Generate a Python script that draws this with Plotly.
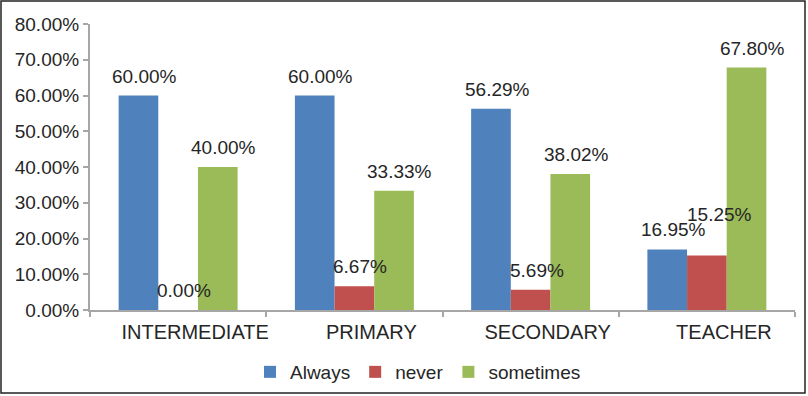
import plotly.graph_objects as go

categories = ["INTERMEDIATE", "PRIMARY", "SECONDARY", "TEACHER"]
always = [60.00, 60.00, 56.29, 16.95]
never = [0.00, 6.67, 5.69, 15.25]
sometimes = [40.00, 33.33, 38.02, 67.80]
series_names = ["Always", "never", "sometimes"]
colors = ["#4F81BD", "#C0504D", "#9BBB59"]
y_ticks = [0, 10, 20, 30, 40, 50, 60, 70, 80]
y_tick_labels = [f"{v:.2f}%" for v in y_ticks]

W, H = 808, 396
L, R, T, B = 90, 13, 24, 86
pw, ph = W - L - R, H - T - B

font = "Liberation Sans, Arial, sans-serif"
fig = go.Figure()
for name, vals, col in zip(series_names, [always, never, sometimes], colors):
    fig.add_trace(go.Bar(name=name, x=categories, y=vals, marker_color=col,
                         marker_line_width=0))

annotations = []
offsets = [-39.5, 0, 39.5]
for si, vals in enumerate([always, never, sometimes]):
    for ci, v in enumerate(vals):
        xs, ys = offsets[si] + 6, 7
        if categories[ci] == "TEACHER" and si == 1:
            xs += 7
            ys += 21
        annotations.append(dict(x=categories[ci], y=v, xref="x", yref="y",
                                text=f"{v:.2f}%", showarrow=False,
                                yanchor="bottom", xshift=xs, yshift=ys,
                                font=dict(family=font, size=19, color="#262626")))

def px2paper_x(p):
    return (p - L) / pw

def px2paper_y(p):
    return (H - B - p) / ph

fig.add_shape(type="rect", xref="paper", yref="paper",
              x0=px2paper_x(1), x1=px2paper_x(805),
              y0=px2paper_y(393), y1=px2paper_y(1),
              line=dict(color="#222222", width=1.5), layer="below")

fig.update_layout(
    width=W, height=H,
    margin=dict(l=L, r=R, t=T, b=B, autoexpand=False),
    paper_bgcolor="white", plot_bgcolor="white",
    barmode="group", bargap=0.325, bargroupgap=0,
    font=dict(family=font, size=19, color="#262626"),
    annotations=annotations,
    showlegend=True,
    legend=dict(orientation="h", x=px2paper_x(418), xanchor="center",
                y=px2paper_y(372), yanchor="middle",
                font=dict(family=font, size=19, color="#262626"),
                itemwidth=30, traceorder="normal"),
    xaxis=dict(showline=True, linecolor="#A6A6A6", linewidth=2,
               ticks="outside", ticklen=5, tickcolor="#A6A6A6", tickwidth=2,
               tickson="boundaries", showgrid=False, automargin=False,
               tickfont=dict(family=font, size=20, color="#262626"),
               ticklabelshift=17, ticklabelstandoff=3),
    yaxis=dict(range=[0, 80], tickvals=y_ticks, ticktext=y_tick_labels,
               showline=True, linecolor="#A6A6A6", linewidth=2,
               ticks="outside", ticklen=5, tickcolor="#A6A6A6", tickwidth=2,
               showgrid=False, zeroline=False, automargin=False,
               tickfont=dict(family=font, size=19, color="#262626"),
               ticklabelstandoff=0),
)

fig.write_html("out.html", config={"displayModeBar": False},
               post_script="document.body.style.margin='0';"
                           "document.body.style.overflow='hidden';")
